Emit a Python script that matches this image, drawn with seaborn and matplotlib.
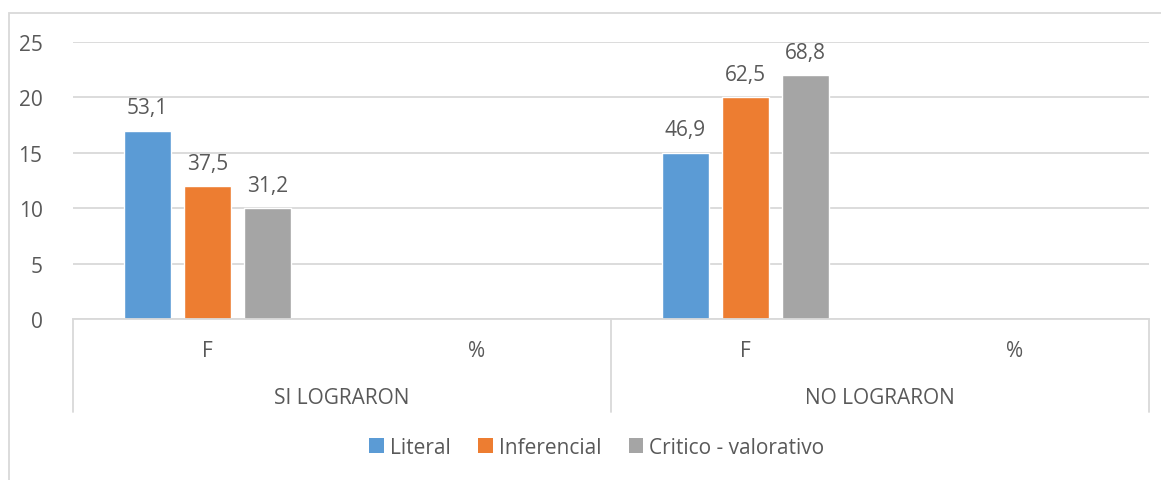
import numpy as np
import pandas as pd
import matplotlib
matplotlib.use("Agg")
import matplotlib.pyplot as plt
from matplotlib.patches import Patch, Rectangle
import seaborn as sns

# data
grupos = ["SI LOGRARON", "NO LOGRARON"]
subcategorias = ["F", "%"]
niveles = ["Literal", "Inferencial", "Critico - valorativo"]
frecuencia_si = [17, 12, 10]
frecuencia_no = [15, 20, 22]
porcentaje_si = [53.1, 37.5, 31.2]
porcentaje_no = [46.9, 62.5, 68.8]
colores = ["#5b9bd5", "#ed7d31", "#a5a5a5"]

TEXT = "#595959"
GRID = "#d9d9d9"
FS = 15

# four category slots: (grupo, F) and (grupo, %); only F slots hold bars
slots = [f"{g}|{s}" for g in grupos for s in subcategorias]
rows = []
for g, freq, pct in [(grupos[0], frecuencia_si, porcentaje_si),
                     (grupos[1], frecuencia_no, porcentaje_no)]:
    for nivel, f, p in zip(niveles, freq, pct):
        rows.append({"slot": f"{g}|F", "nivel": nivel, "F": f, "pct": p})
df = pd.DataFrame(rows)

sns.set_style("white")
plt.rcParams["font.family"] = ["Open Sans", "DejaVu Sans"]

fig = plt.figure(figsize=(11.61, 4.81), dpi=100)
ax = fig.add_axes([73 / 1161, 161 / 481, (1149 - 73) / 1161, 277 / 481])

sns.barplot(data=df, x="slot", y="F", hue="nivel", order=slots,
            hue_order=niveles, palette=colores, width=0.67, gap=0.22,
            saturation=1, legend=False, ax=ax)

# data labels show the percentages
lookup = {(r.slot, r.nivel): r.pct for r in df.itertuples()}
for nivel, cont in zip(niveles, ax.containers):
    labels = []
    for bar in cont:
        idx = int(round(bar.get_x() + bar.get_width() / 2))
        labels.append(f"{lookup[(slots[idx], nivel)]:.1f}".replace(".", ","))
    ax.bar_label(cont, labels=labels, padding=9, fontsize=FS, color=TEXT)

ax.set_ylim(0, 25)
ax.set_xlim(-0.5, 3.5)
ax.set_yticks(range(0, 26, 5))
ax.yaxis.grid(True, color=GRID, linewidth=1.3)
ax.set_axisbelow(True)
ax.tick_params(axis="y", length=0, pad=22, labelsize=FS, labelcolor=TEXT)
ax.set_xticks(range(4))
ax.set_xticklabels([s.split("|")[1] for s in slots])
ax.tick_params(axis="x", length=0, pad=15, labelsize=FS, labelcolor=TEXT)
ax.set_xlabel("")
ax.set_ylabel("")
for side in ["left", "right", "top"]:
    ax.spines[side].set_visible(False)
ax.spines["bottom"].set_color(GRID)
ax.spines["bottom"].set_linewidth(1.3)

# group labels and separators under the axis
trans = ax.get_xaxis_transform()
for i, g in enumerate(grupos):
    ax.text(2 * i + 0.5, -0.285, g, transform=trans, ha="center", va="center",
            fontsize=FS, color=TEXT)
for x in [-0.5, 1.5, 3.5]:
    ax.plot([x, x], [0, -0.336], transform=trans, color=GRID, lw=1.3,
            clip_on=False)

handles = [Patch(facecolor=c, edgecolor="none") for c in colores]
fig.legend(handles, niveles, loc="center", bbox_to_anchor=(597 / 1161, 1 - 448 / 481),
           ncol=3, frameon=False, fontsize=FS, labelcolor=TEXT,
           handlelength=0.7, handleheight=0.7, handletextpad=0.3,
           columnspacing=1.3)

# chart area border
fig.patches.append(Rectangle((9 / 1161, -0.1), 1.2, (481 - 14) / 481 + 0.1,
                             transform=fig.transFigure, fill=False,
                             edgecolor=GRID, linewidth=1.3))

fig.savefig("out.png", dpi=100)
